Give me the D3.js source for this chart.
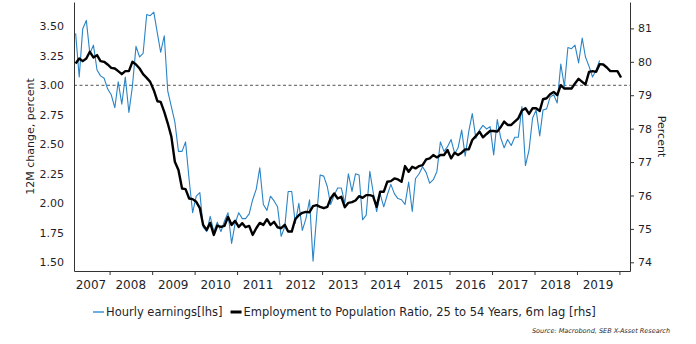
<!DOCTYPE html>
<html>
<head>
<meta charset="utf-8">
<script src="https://cdn.jsdelivr.net/npm/d3@7"></script>
<style>
  body { margin: 0; background: #fff; }
  svg text { font-family: "DejaVu Sans", sans-serif; fill: #1f1f2b; }
</style>
</head>
<body>
<svg id="chart" width="696" height="344"></svg>
<script>
// monthly series, first value = March 2007
const earningsStart = [2007, 2];
const earnings = [
  3.44, 3.07, 3.48, 3.55, 3.27, 3.34, 3.13, 3.08, 3.06, 2.97,
  2.92, 2.81, 3.03, 2.84, 3.07, 2.77, 2.99, 3.33, 3.24, 3.27, 3.60, 3.59,
  3.62, 3.44, 3.28, 3.42, 2.95, 2.82, 2.69, 2.44, 2.44, 2.52, 2.20, 1.92,
  2.06, 2.09, 1.80, 1.76, 1.89, 1.76, 1.84, 1.76, 1.85, 1.92, 1.66, 1.83,
  1.92, 1.87, 1.87, 1.91, 2.03, 2.12, 2.30, 1.99, 1.94, 2.06, 2.02, 1.97,
  1.72, 1.80, 2.10, 2.10, 1.83, 2.00, 1.77, 1.87, 2.03, 1.51, 1.89, 2.24,
  2.23, 2.14, 1.99, 2.07, 2.13, 2.13, 2.00, 2.25, 2.10, 2.25, 2.24, 1.86,
  1.90, 2.27, 2.10, 1.93, 2.08, 1.97, 2.07, 2.16, 2.08, 2.04, 2.03, 1.99,
  2.18, 1.93, 2.21, 2.25, 2.31, 2.26, 2.17, 2.20, 2.27, 2.52, 2.44, 2.48,
  2.54, 2.42, 2.47, 2.62, 2.40, 2.61, 2.76, 2.55, 2.62, 2.66, 2.63, 2.65,
  2.41, 2.71, 2.56, 2.47, 2.54, 2.49, 2.56, 2.56, 2.82, 2.32, 2.45, 2.72,
  2.79, 2.57, 2.79, 2.80, 2.90, 2.92, 2.85, 3.18, 2.99, 3.32, 3.31, 3.34,
  3.19, 3.40, 3.24, 3.16, 3.07, 3.13, 3.21
];

// employment to population ratio, already shifted 6 months, first value = March 2007
const employmentStart = [2007, 2];
const employment = [
  79.95, 80.10, 80.02, 80.10, 80.30, 80.13, 80.20, 80.02, 80.00, 79.92,
  79.82, 79.80, 79.72, 79.63, 79.72, 79.72, 80.00, 79.92, 79.80, 79.63, 79.52, 79.40,
  79.15, 78.82, 78.80, 78.50, 78.16, 77.76, 77.01, 76.76, 76.21, 76.19, 75.91, 75.89,
  75.81, 75.62, 75.12, 74.97, 75.18, 74.82, 75.10, 75.06, 75.09, 75.36, 75.12, 75.24,
  75.06, 75.17, 75.05, 75.09, 74.82, 75.02, 75.18, 75.12, 75.29, 75.12, 75.21, 75.05,
  75.02, 75.12, 74.92, 74.92, 75.29, 75.41, 75.48, 75.51, 75.50, 75.68, 75.71, 75.66,
  75.62, 75.66, 75.91, 76.06, 75.91, 75.96, 75.65, 75.78, 75.80, 75.85, 75.98, 75.93,
  76.01, 76.01, 75.98, 75.66, 76.11, 76.11, 76.41, 76.43, 76.51, 76.48, 76.41, 76.88,
  76.71, 76.86, 76.81, 76.88, 76.91, 77.08, 77.11, 77.21, 77.14, 77.21, 77.21, 77.36,
  77.11, 77.28, 77.21, 77.28, 77.38, 77.38, 77.66, 77.78, 77.91, 77.74, 77.84, 77.93,
  77.93, 77.91, 78.04, 78.21, 78.11, 78.11, 78.21, 78.31, 78.54, 78.61, 78.44, 78.61,
  78.61, 78.53, 78.88, 78.91, 79.03, 79.10, 79.00, 79.30, 79.20, 79.20, 79.20, 79.35,
  79.49, 79.40, 79.32, 79.70, 79.72, 79.70, 79.93, 79.92, 79.83, 79.72, 79.72, 79.72,
  79.53
];

const leftTicks = [1.50, 1.75, 2.00, 2.25, 2.50, 2.75, 3.00, 3.25, 3.50];
const rightTicks = [74, 75, 76, 77, 78, 79, 80, 81];
const yearLabels = [2007, 2008, 2009, 2010, 2011, 2012, 2013, 2014, 2015, 2016, 2017, 2018, 2019];
const yearTicks = [2008, 2009, 2010, 2011, 2012, 2013, 2014, 2015, 2016, 2017, 2018, 2019, 2020];
const refLevel = 3.00;

const svg = d3.select('#chart');
const plotLeft = 74, plotRight = 630, plotTop = 2, plotBottom = 271;

const x = d3.scaleTime()
  .domain([new Date(2007, 2, 1), new Date(2020, 3, 1)])
  .range([plotLeft, plotRight]);
const yL = d3.scaleLinear().domain([1.426, 3.706]).range([plotBottom, plotTop]);
const yR = d3.scaleLinear().domain([73.74, 81.79]).range([plotBottom, plotTop]);

function toPoints(start, values) {
  return values.map((v, i) => ({ date: new Date(start[0], start[1] + i, 15), value: v }));
}
const earnPts = toPoints(earningsStart, earnings);
const empPts = toPoints(employmentStart, employment);

// dashed reference line
svg.append('line')
  .attr('x1', plotLeft).attr('x2', plotRight)
  .attr('y1', yL(refLevel)).attr('y2', yL(refLevel))
  .attr('stroke', '#555').attr('stroke-width', 1)
  .attr('stroke-dasharray', '3,2.5');

// axes
const axisColor = '#333';
const gL = svg.append('g')
  .attr('transform', `translate(${plotLeft},0)`)
  .call(d3.axisLeft(yL).tickValues(leftTicks).tickFormat(d3.format('.2f'))
    .tickSize(0).tickSizeOuter(0).tickPadding(10));
const gR = svg.append('g')
  .attr('transform', `translate(${plotRight},0)`)
  .call(d3.axisRight(yR).tickValues(rightTicks).tickSize(4).tickSizeOuter(0).tickPadding(4));
const gB = svg.append('g')
  .attr('transform', `translate(0,${plotBottom})`)
  .call(d3.axisBottom(x).tickValues(yearTicks.map(y => new Date(y, 0, 1)))
    .tickFormat('').tickSize(4).tickSizeOuter(0));

[gL, gR, gB].forEach(g => {
  g.select('.domain').attr('stroke', axisColor);
  g.selectAll('.tick line').attr('stroke', axisColor);
  g.selectAll('text').attr('font-size', 11).attr('font-family', null).attr('fill', null);
});

// year labels centred in each year
svg.append('g').selectAll('text')
  .data(yearLabels)
  .join('text')
  .attr('x', d => Math.max(x(new Date(d, 6, 1)), plotLeft + 17))
  .attr('y', 289)
  .attr('text-anchor', 'middle')
  .attr('font-size', 12)
  .text(d => d);

// series
const lineL = d3.line().x(d => x(d.date)).y(d => yL(d.value));
const lineR = d3.line().x(d => x(d.date)).y(d => yR(d.value));

svg.append('path')
  .datum(earnPts)
  .attr('fill', 'none')
  .attr('stroke', '#2a84c6')
  .attr('stroke-width', 1.1)
  .attr('stroke-linejoin', 'round')
  .attr('d', lineL);

svg.append('path')
  .datum(empPts)
  .attr('fill', 'none')
  .attr('stroke', '#000')
  .attr('stroke-width', 2.4)
  .attr('stroke-linejoin', 'round')
  .attr('d', lineR);

// axis titles
svg.append('text')
  .attr('transform', `translate(34,${(plotTop + plotBottom) / 2}) rotate(-90)`)
  .attr('text-anchor', 'middle')
  .attr('font-size', 11)
  .text('12M change, percent');

svg.append('text')
  .attr('transform', `translate(658,${(plotTop + plotBottom) / 2}) rotate(90)`)
  .attr('text-anchor', 'middle')
  .attr('font-size', 11)
  .text('Percent');

// legend
const legendItems = [
  { label: 'Hourly earnings[lhs]', color: '#6aaee3', width: 2 },
  { label: 'Employment to Population Ratio, 25 to 54 Years, 6m lag [rhs]', color: '#000', width: 3 }
];
const legend = svg.append('g').attr('transform', 'translate(93,312)');
let lx = 0;
legendItems.forEach(item => {
  const g = legend.append('g').attr('transform', `translate(${lx},0)`);
  g.append('line').attr('x1', 0).attr('x2', 11).attr('y1', 0).attr('y2', 0)
    .attr('stroke', item.color).attr('stroke-width', item.width);
  const t = g.append('text').attr('x', 13).attr('y', 4.2)
    .attr('font-size', 11.5).text(item.label);
  lx += 13 + t.node().getComputedTextLength() + 8;
});

// source
svg.append('text')
  .attr('x', 670).attr('y', 333)
  .attr('text-anchor', 'end')
  .attr('font-size', 6.5)
  .attr('font-style', 'italic')
  .text('Source: Macrobond, SEB X-Asset Research');
</script>
</body>
</html>
